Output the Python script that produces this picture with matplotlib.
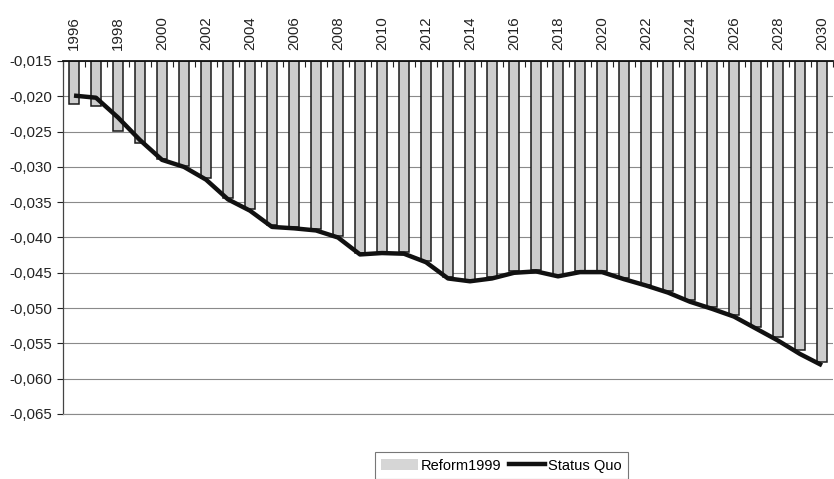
import matplotlib
matplotlib.use("Agg")
import matplotlib.pyplot as plt
import numpy as np
from matplotlib.ticker import FuncFormatter, FixedLocator
from matplotlib.patches import Patch
from matplotlib.lines import Line2D

plt.rcParams['font.family'] = ['Liberation Sans', 'DejaVu Sans']

years = list(range(1996, 2031))
year_labels = [str(y) if (y - 1996) % 2 == 0 else "" for y in years]

reform1999 = [-0.0211, -0.0214, -0.0249, -0.0266, -0.0289, -0.0299, -0.0316,
              -0.0344, -0.0360, -0.0383, -0.0385, -0.0388, -0.0398, -0.0422,
              -0.0420, -0.0421, -0.0433, -0.0456, -0.0460, -0.0456, -0.0448,
              -0.0446, -0.0453, -0.0447, -0.0447, -0.0458, -0.0467, -0.0476,
              -0.0488, -0.0499, -0.0510, -0.0527, -0.0541, -0.0559, -0.0576]

status_quo = [-0.0199, -0.0202, -0.0230, -0.0262, -0.0290, -0.0300, -0.0318,
              -0.0346, -0.0362, -0.0385, -0.0387, -0.0390, -0.0400, -0.0424,
              -0.0422, -0.0423, -0.0435, -0.0458, -0.0462, -0.0458, -0.0450,
              -0.0448, -0.0455, -0.0449, -0.0449, -0.0459, -0.0468, -0.0478,
              -0.0491, -0.0501, -0.0512, -0.0529, -0.0546, -0.0565, -0.0581]

y_ticks = [-0.015, -0.020, -0.025, -0.030, -0.035, -0.040, -0.045,
           -0.050, -0.055, -0.060, -0.065]

baseline = -0.015

fig = plt.figure(figsize=(8.34, 4.79), dpi=100)
ax = fig.add_axes([63/834, 1 - 414/479, 770/834, (414 - 61)/479])

x = np.arange(len(years))
heights = np.array(reform1999) - baseline
ax.bar(x, heights, bottom=baseline, width=0.45, color='#cdcdcd',
       edgecolor='#1a1a1a', linewidth=1.1, zorder=2)
ax.plot(x, status_quo, color='#111111', linewidth=3.2, zorder=3,
        solid_joinstyle='round', solid_capstyle='butt')

ax.set_xlim(-0.5, len(years) - 0.5)
ax.set_ylim(-0.065, -0.015)

ax.set_yticks(y_ticks)
ax.yaxis.set_major_formatter(FuncFormatter(lambda v, p: f"{v:.3f}".replace('.', ',')))
ax.tick_params(axis='y', labelsize=10.8, length=4, width=0.8, pad=4, colors='#222222')

ax.xaxis.tick_top()
ax.set_xticks(x)
ax.set_xticklabels(year_labels, rotation=90, fontsize=10.8, color='#222222')
ax.tick_params(axis='x', which='major', length=0, pad=8)
ax.xaxis.set_minor_locator(FixedLocator(np.arange(-0.5, len(years), 1.0)))
ax.tick_params(axis='x', which='minor', direction='in', length=4, width=0.8,
               color='#222222', top=True, bottom=False)

ax.grid(axis='y', color='#8a8a8a', linewidth=0.8)
ax.set_axisbelow(True)

ax.spines['right'].set_visible(False)
ax.spines['bottom'].set_color('#8a8a8a')
ax.spines['bottom'].set_linewidth(0.8)
ax.spines['left'].set_color('#444444')
ax.spines['left'].set_linewidth(0.9)
ax.spines['top'].set_color('#111111')
ax.spines['top'].set_linewidth(1.3)

handles = [Patch(facecolor='#d6d6d6', edgecolor='none'),
           Line2D([0], [0], color='#111111', linewidth=3.2)]
leg = fig.legend(handles, ['Reform1999', 'Status Quo'], loc='upper center',
                 bbox_to_anchor=(501.5/834, 1 - 452/479), ncol=2,
                 fontsize=10.5, frameon=True, fancybox=False,
                 handlelength=2.5, handletextpad=0.2, columnspacing=0.5,
                 borderpad=0.45, borderaxespad=0)
leg.get_frame().set_edgecolor('#555555')
leg.get_frame().set_linewidth(0.8)

fig.savefig('out.png', dpi=100, facecolor='white')
